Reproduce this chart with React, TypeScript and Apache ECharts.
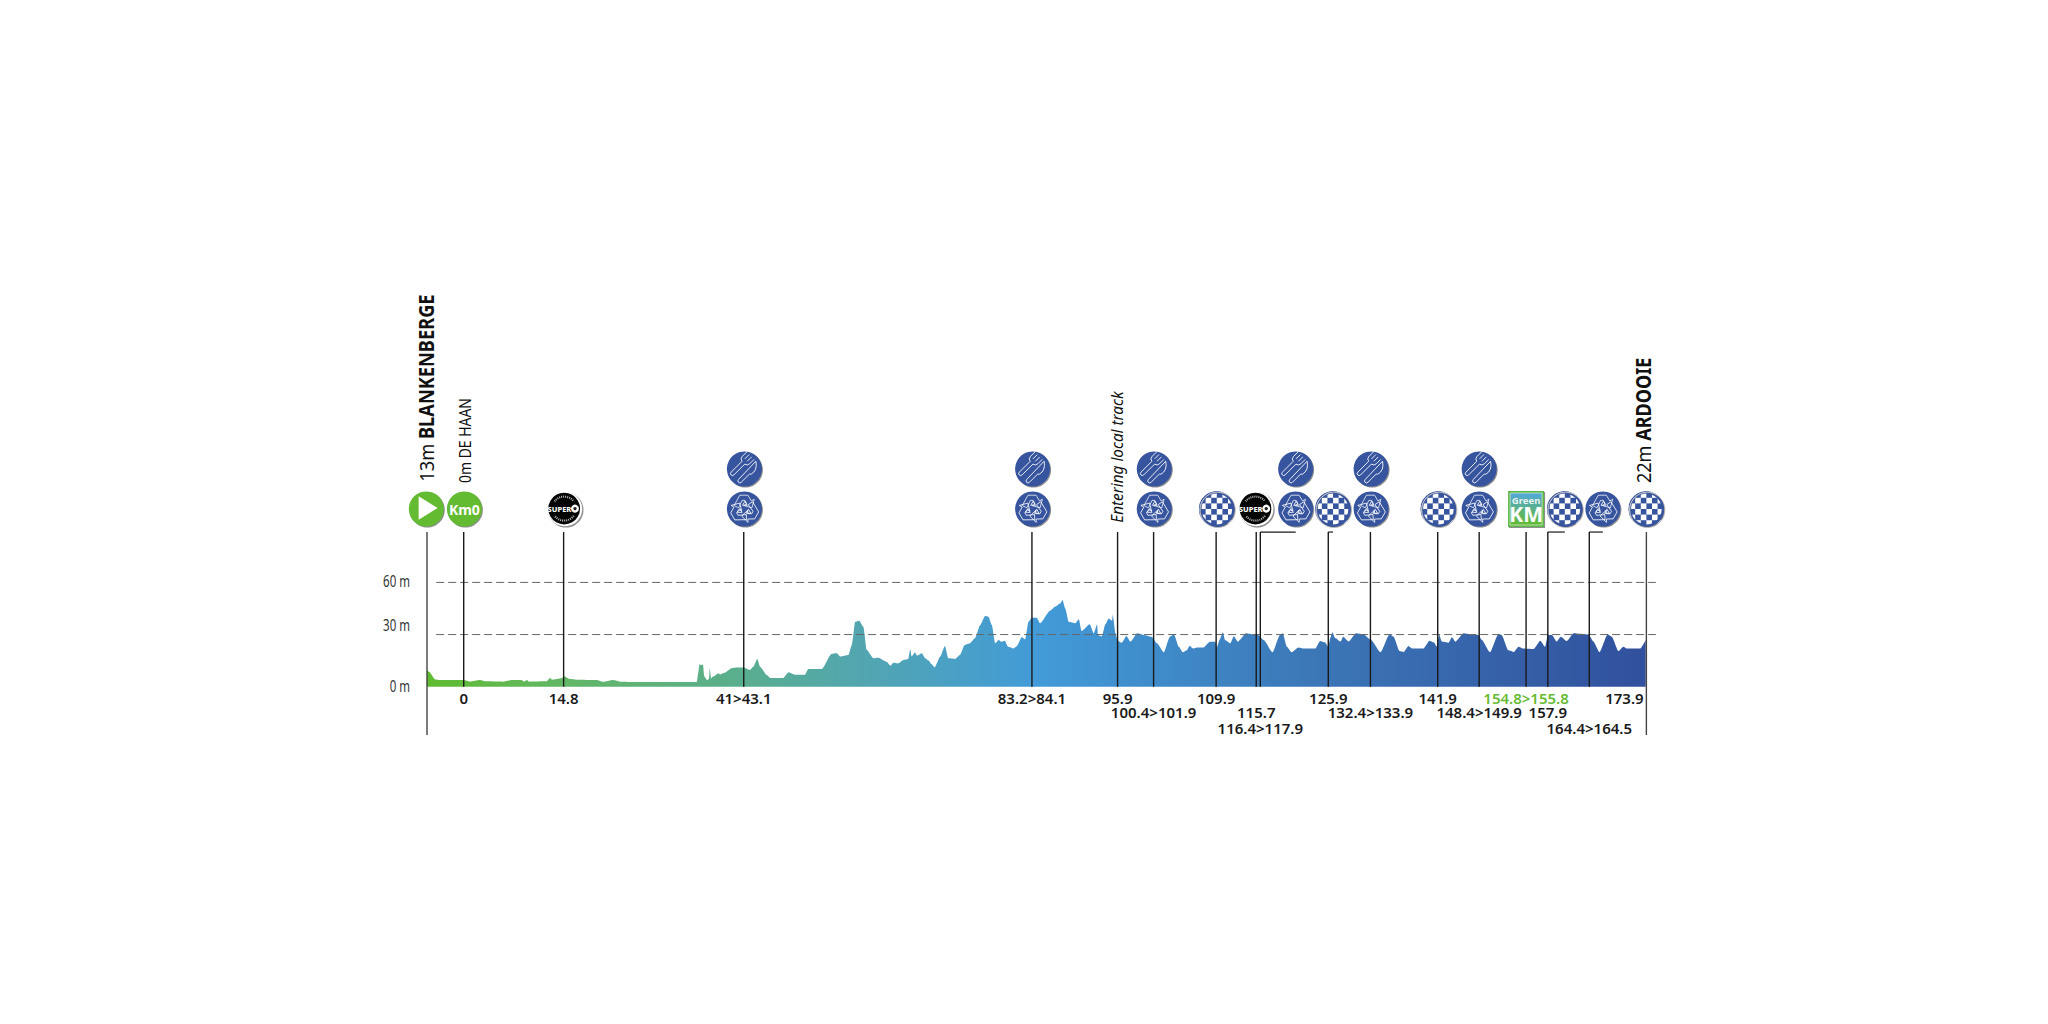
import React, { useEffect, useRef } from "react";
import * as echarts from "echarts";

// ---- data ----
const profileKm = [
  -5.4, -5.1, -4.2, -3.5, 0, 0.9, 2.4, 3.1, 5.8, 7.1, 8.5, 8.9, 9.3, 9.6, 12.2, 12.7, 13, 14.4, 14.8, 15.6, 16.6, 19.6,
  20.5, 22, 23, 25.4, 34.3, 34.5, 34.7, 34.9, 35.2, 35.4, 35.8, 36.1, 36.2, 36.4, 36.7, 37.5, 37.7, 38.4, 39.4, 40.2,
  41.2, 42.1, 42.6, 43.2, 43.6, 44.6, 45.1, 47, 47.8, 48.7, 50.2, 50.7, 52.7, 54.1, 54.9, 55.4, 56.6, 57.1, 57.6, 58.2,
  58.8, 59.3, 60.3, 61, 62.2, 62.8, 63.2, 63.9, 64.7, 65.4, 65.7, 65.9, 66.4, 66.7, 67.4, 67.9, 68.4, 68.8, 69.3, 70.1,
  70.8, 71.3, 72.3, 73, 73.7, 74.5, 75.2, 76, 76.7, 77.2, 77.7, 78.2, 78.7, 79.1, 79.6, 80.1, 80.9, 81.4, 82.1, 82.6,
  83.1, 83.6, 84.3, 84.8, 86.3, 87, 87.8, 88.1, 88.5, 89, 90, 90.5, 90.9, 92.1, 92.7, 93.2, 93.3, 93.9, 94.4, 94.9,
  95.4, 95.5, 95.9, 96.2, 96.8, 97.5, 98.1, 99.1, 100, 101.2, 102, 103, 103.9, 104.5, 105.2, 105.8, 106.4, 106.8, 107.3,
  107.9, 108.8, 109.8, 110.6, 110.8, 111.2, 111.7, 112, 112.8, 113.3, 113.9, 115.1, 116.2, 116.9, 117.7, 119, 120.1,
  120.5, 121.1, 121.8, 122.8, 123.6, 125.3, 126, 126.7, 127.2, 127.5, 127.8, 128.2, 129, 129.4, 130.2, 131.3, 132.4,
  133.5, 134.9, 136.2, 136.8, 137.7, 138.3, 139, 139.5, 141.2, 142.1, 142.7, 143.2, 143.5, 143.9, 144.9, 145.4, 145.9,
  147.1, 148.3, 149.3, 149.8, 151, 152.2, 152.7, 153.7, 154.5, 155.2, 155.8, 157.4, 158.4, 159.1, 159.5, 160.1, 160.8,
  161.4, 162.3, 163.3, 165.5, 166.2, 167.1, 168.3, 168.9, 169.9, 170.6, 171.1, 173.1, 173.9,
];
const profileElevation = [
  9.6, 8.6, 4.2, 3.8, 3.8, 2.9, 3.8, 3.1, 2.9, 3.8, 3.8, 2.9, 3.8, 2.9, 3.1, 5, 4, 4.8, 6, 4.4, 4, 3.8,
  2.7, 3.8, 2.9, 2.7, 2.7, 7.7, 13, 12.3, 12.7, 5.8, 3.8, 4.6, 10.4, 4.8, 5.8, 7.7, 7, 8, 10.6, 11,
  11, 9.6, 11.5, 16, 11.5, 6.7, 5, 5, 8.3, 6.9, 6.9, 10.2, 10.2, 18.8, 19.2, 17.3, 18.2, 24, 37.4, 38,
  34.5, 21.1, 16.3, 16.7, 14.4, 12.1, 13.8, 13.4, 15.4, 15.9, 21.5, 17.3, 19.6, 17.8, 19.2, 16.3, 15, 13, 11.1, 17.3,
  23.4, 16.3, 15.9, 18.2, 24, 25, 27.8, 35.5, 40.7, 40.3, 35.5, 25, 26.9, 25.9, 26.5, 23, 22, 23.4, 28.4, 27.2,
  37.4, 39.7, 39.7, 36.5, 43.8, 46, 48, 49.9, 45, 37.4, 36.5, 38.8, 32, 35.9, 30.7, 35.9, 29.8, 29, 35.9, 39.3,
  38, 41.3, 30.7, 26.5, 25.3, 29.2, 25.9, 30.7, 29.8, 28.8, 25, 19.8, 28.8, 30, 23, 19.8, 21, 23.6, 22,
  22.6, 22.5, 25.9, 25.9, 22.6, 26.9, 31.3, 26.9, 25, 29, 25.9, 30.7, 30, 29.8, 26.9, 19.8, 29.8,
  30.7, 23, 19.8, 22.6, 22, 22, 26.3, 25.5, 23, 28, 31.3, 28, 26, 28.8, 26, 30.7, 30,
  26.9, 19.8, 30, 28.8, 20.5, 20, 23.4, 22, 22, 26.5, 25.5, 23, 30, 26, 25.3, 28.4, 25.9,
  30.7, 30, 29.8, 26.9, 19.8, 30, 29.8, 21, 20, 23, 22, 21.7, 26.5, 23, 29.8, 29.8, 26,
  28.8, 26.3, 30.7, 30, 26, 19.8, 30, 28.8, 20.5, 23, 22, 22, 26.9,
];
const gridLevels = [30, 60];
const yTicks = [0, 30, 60];
const yTickLabels = ["0 m", "30 m", "60 m"];
const markerKm = [-5.4, 0, 14.7, 41.2, 83.6, 96.2, 101.5, 110.7, 116.6, 117.2, 127.2, 133.4, 143.3, 149.4, 156.3, 159.5, 165.6, 174];
const markerLabels = ["", "0", "14.8", "41>43.1", "83.2>84.1", "95.9", "100.4>101.9", "109.9", "115.7", "116.4>117.9", "125.9", "132.4>133.9", "141.9", "148.4>149.9", "154.8>155.8", "157.9", "164.4>164.5", "173.9"];
const iconKm = [-5.5, 0.1, 14.9, 41.3, 83.7, 101.6, 110.8, 116.6, 122.4, 127.9, 133.5, 143.4, 149.4, 156.3, 162, 167.6, 174];
const iconKinds = ["start", "km0", "super", "feed", "feed", "feed", "check", "super", "feed", "check", "feed", "check", "feed", "green", "check", "recycle", "check"];
const elbowFromKm = [117.2, 127.2, 159.5, 165.6];
const elbowToKm = [122.4, 127.9, 162, 167.6];

// ---- layout & style ----
const PX_PER_KM = 6.797;
const AXIS_MIN = -5.4;
const AXIS_MAX = 175.4;
const GRID_LEFT = 427;
const GRID_TOP = 530.3;
const GRID_H = 208.5;
const ICON_Y = 509;
const ICON_Y_UP = 469;
const R = 17.5;
const BLUE = "#37559f";
const GREEN = "#62bb30";
const SHADOW = "#8f8f8f";
const FONT = '"Noto Sans", sans-serif';
const labelRow = [0, 0, 0, 0, 0, 0, 1, 0, 1, 2, 0, 1, 0, 1, 0, 1, 2, 0];
const labelRowY = [697.5, 711.7, 728.3];
const yLabelShift = [-1, -9.6, -2];

const FORK = "M-8,-13V-7Q-8,-4-5.5,-3.5L-5.5,11Q-5.5,13-4,13Q-2.5,13-2.5,11L-2.5,-3.5Q0,-4,0,-7V-13M-5.3,-13V-7M-2.7,-13V-7";
const KNIFE = "M2,-13Q8,-8,6.5,-1L5.5,0L5.5,11Q5.5,13,4,13Q2.5,13,2.5,11Z";
const ARROW = "M-9,-3L-4,-12L3,-12L6,-7L8.5,-8.5L6.5,-1L-0.5,-3L2,-4.5L0.5,-7.5L-2,-7.5L-5,-1Z";
const INNER = "M-6,3L-2,3L-4,-0.5Z";

function disc(x: number, y: number, fill: string) {
  return [
    { type: "circle", shape: { cx: x + 1, cy: y + 1, r: R }, style: { fill: SHADOW } },
    { type: "circle", shape: { cx: x, cy: y, r: R }, style: { fill } },
  ];
}

function feedGlyph(x: number, y: number) {
  const s = { fill: "none", stroke: "#fff", lineWidth: 0.7 };
  return [
    { type: "path", x, y, rotation: -Math.PI / 4, scaleX: 1.3, scaleY: 1.05, shape: { pathData: FORK }, style: s },
    { type: "path", x, y, rotation: -Math.PI / 4, scaleX: 1.3, scaleY: 1.05, shape: { pathData: KNIFE }, style: s },
  ];
}

function recycleGlyph(x: number, y: number) {
  const s = { fill: "none", stroke: "#fff", lineWidth: 0.65 };
  return [0, 1, 2].flatMap((k) => [
    { type: "path", x, y, rotation: (k * 2 * Math.PI) / 3, scaleX: 1.15, scaleY: 1.15, shape: { pathData: ARROW }, style: s },
    { type: "path", x, y, rotation: (k * 2 * Math.PI) / 3, scaleX: 1.15, scaleY: 1.15, shape: { pathData: INNER }, style: s },
  ]);
}

function checkGlyph(x: number, y: number) {
  const out: any[] = [];
  const c = 5.6;
  for (let i = -3; i < 3; i++) {
    for (let j = -3; j < 3; j++) {
      if ((i + j + 6) % 2 !== 0) continue;
      out.push({ type: "rect", shape: { x: x + i * c, y: y + j * c, width: c, height: c }, style: { fill: "#fff" } });
    }
  }
  out.push({ type: "circle", shape: { cx: x, cy: y, r: 16.6 }, style: { fill: "none", stroke: BLUE, lineWidth: 2.6 } });
  out.push({ type: "circle", shape: { cx: x + 1, cy: y + 1, r: 17.8 }, style: { fill: "none", stroke: "#fff", lineWidth: 0.9 } });
  out.push({ type: "circle", shape: { cx: x + 1, cy: y + 1, r: 17.5 }, style: { fill: "none", stroke: SHADOW, lineWidth: 0.6 } });
  return out;
}

function iconElements(kind: string, x: number): any[] {
  if (kind === "feed") {
    return [...disc(x, ICON_Y_UP, BLUE), ...feedGlyph(x, ICON_Y_UP), ...disc(x, ICON_Y, BLUE), ...recycleGlyph(x, ICON_Y)];
  }
  if (kind === "recycle") return [...disc(x, ICON_Y, BLUE), ...recycleGlyph(x, ICON_Y)];
  if (kind === "check") return [...disc(x, ICON_Y, BLUE), ...checkGlyph(x, ICON_Y)];
  if (kind === "start") {
    return [
      ...disc(x, ICON_Y, GREEN),
      { type: "polygon", shape: { points: [[x - 7.7, ICON_Y - 12.7], [x - 7.7, ICON_Y + 10.7], [x + 11.3, ICON_Y - 1]] }, style: { fill: "#fff" } },
    ];
  }
  if (kind === "km0") {
    return [
      ...disc(x, ICON_Y, GREEN),
      { type: "text", x, y: ICON_Y, style: { text: "Km0", fill: "#fff", font: `700 14px ${FONT}`, align: "center", verticalAlign: "middle" } },
    ];
  }
  if (kind === "super") {
    return [
      { type: "circle", shape: { cx: x + 1, cy: ICON_Y + 1, r: R }, style: { fill: SHADOW } },
      { type: "circle", shape: { cx: x, cy: ICON_Y, r: R - 0.3 }, style: { fill: "#fff" } },
      { type: "circle", shape: { cx: x - 0.8, cy: ICON_Y - 0.4, r: R - 1.6 }, style: { fill: "#050505" } },
      { type: "arc", shape: { cx: x - 0.8, cy: ICON_Y - 0.4, r: 12, startAngle: -2.5, endAngle: -0.65 }, style: { stroke: "#bbb", fill: "none", lineWidth: 2, lineDash: [1, 1] } },
      { type: "arc", shape: { cx: x - 0.8, cy: ICON_Y - 0.4, r: 12, startAngle: 0.65, endAngle: 2.5 }, style: { stroke: "#bbb", fill: "none", lineWidth: 2, lineDash: [1, 1] } },
      { type: "text", x: x - 5.5, y: ICON_Y - 0.4, style: { text: "SUPER", fill: "#fff", font: `800 7.5px ${FONT}`, align: "center", verticalAlign: "middle" } },
      { type: "circle", shape: { cx: x + 10, cy: ICON_Y - 0.4, r: 4 }, style: { fill: "#fff" } },
      { type: "circle", shape: { cx: x + 10, cy: ICON_Y - 0.4, r: 1.7 }, style: { fill: "#222" } },
    ];
  }
  const grad = new echarts.graphic.LinearGradient(0, 0, 0, 1, [
    { offset: 0, color: "#52a8dc" },
    { offset: 1, color: "#62bb30" },
  ]);
  return [
    { type: "rect", shape: { x: x - 17, y: ICON_Y - 17, width: 36, height: 36 }, style: { fill: SHADOW } },
    { type: "rect", shape: { x: x - 18, y: ICON_Y - 18, width: 36, height: 36 }, style: { fill: "#5cb947" } },
    { type: "rect", shape: { x: x - 16, y: ICON_Y - 16, width: 32, height: 32 }, style: { fill: grad, stroke: "#cfe8c4", lineWidth: 0.8 } },
    { type: "text", x, y: ICON_Y - 9, style: { text: "Green", fill: "#e6f3ea", font: `700 9.5px ${FONT}`, align: "center", verticalAlign: "middle" } },
    { type: "text", x, y: ICON_Y + 4.5, style: { text: "KM", fill: "#fff", font: `700 21px ${FONT}`, align: "center", verticalAlign: "middle" } },
  ];
}

const TITLES = [
  { km: -5.4, dx: -1, bottom: 481.7, rich: "{a|13m }{b|BLANKENBERGE}", size: 20.5, sx: 0.89 },
  { km: 0, dx: 1.3, bottom: 483, rich: "{a|0m DE HAAN}", size: 15.5, sx: 0.9 },
  { km: 96.2, dx: -0.6, bottom: 522.7, rich: "{i|Entering local track}", size: 17, sx: 0.9 },
  { km: 174, dx: -3, bottom: 483, rich: "{a|22m }{b|ARDOOIE}", size: 20.5, sx: 0.88 },
];

export default function App() {
  const ref = useRef<HTMLDivElement>(null);
  useEffect(() => {
    const chart = echarts.init(ref.current!, null, { renderer: "svg" });
    const area = new echarts.graphic.LinearGradient(0, 0, 1, 0, [
      { offset: 0, color: "#5fbb30" },
      { offset: 0.11, color: "#62b765" },
      { offset: 0.26, color: "#59ae8f" },
      { offset: 0.35, color: "#53a6ae" },
      { offset: 0.5, color: "#429bd8" },
      { offset: 0.72, color: "#3c78b8" },
      { offset: 1, color: "#31509d" },
    ]);
    const rimColor = new echarts.graphic.LinearGradient(0, 0, 1, 0, [
      { offset: 0, color: "#7fcb5a" },
      { offset: 0.26, color: "#8cc7b0" },
      { offset: 0.5, color: "#80bce6" },
      { offset: 1, color: "#7d95cc" },
    ]);
    chart.setOption({
      animation: false,
      grid: { left: GRID_LEFT, top: GRID_TOP, width: (AXIS_MAX - AXIS_MIN) * PX_PER_KM, height: GRID_H },
      xAxis: { type: "value", min: AXIS_MIN, max: AXIS_MAX, show: false },
      yAxis: { type: "value", min: -30, max: 90, interval: 30, show: false },
      series: [
        {
          type: "line",
          name: "Elevation",
          data: profileKm.map((k, i) => [k, profileElevation[i]]),
          symbol: "none",
          smooth: 0.2,
          smoothMonotone: "x",
          lineStyle: { width: 0 },
          areaStyle: { color: area, opacity: 1 },
          z: 2,
          silent: true,
        },
        {
          type: "line",
          name: "Road",
          data: [[profileKm[0], 0.3], [profileKm[profileKm.length - 1], 0.3]],
          symbol: "none",
          lineStyle: { width: 1, color: rimColor },
          z: 3,
          silent: true,
        },
        ...gridLevels.map((lv) => ({
          type: "line",
          name: `${lv} m`,
          data: [[-4.05, lv], [175.4, lv]],
          symbol: "none",
          lineStyle: { width: 1, color: "#666", type: [8, 4] },
          z: 4,
          silent: true,
        })),
        {
          type: "custom",
          name: "Y labels",
          z: 5,
          silent: true,
          data: yTicks.map((v) => [AXIS_MIN, v]),
          renderItem: (params: any, api: any) => {
            const i = params.dataIndex;
            const p = api.coord([AXIS_MIN, yTicks[i]]);
            return {
              type: "text",
              x: p[0] - 17,
              y: p[1] + yLabelShift[i],
              scaleX: 0.72,
              style: { text: yTickLabels[i], fill: "#333", font: `400 16px ${FONT}`, align: "right", verticalAlign: "middle" },
            };
          },
        },
        {
          type: "custom",
          name: "Markers",
          z: 5,
          silent: true,
          data: markerKm.map((k) => [k]),
          renderItem: (params: any, api: any) => {
            const i = params.dataIndex;
            const x = api.coord([markerKm[i], 0])[0];
            const base = api.coord([0, 0])[1];
            const isEnd = i === 0 || i === markerKm.length - 1;
            const topY = api.coord([0, 89])[1];
            const bottomY = isEnd ? 735 : base;
            const label = markerLabels[i];
            const children: any[] = [
              { type: "line", shape: { x1: x, y1: topY, x2: x, y2: bottomY }, style: { stroke: isEnd ? "#444" : "#1a1a1a", lineWidth: 1.4 } },
            ];
            if (label) {
              children.push({
                type: "text",
                x: i === markerKm.length - 1 ? x - 22 : x,
                y: labelRowY[labelRow[i]],
                style: {
                  text: label,
                  fill: label === "154.8>155.8" ? "#66bb33" : "#1a1a1a",
                  font: `600 15px ${FONT}`,
                  align: "center",
                  verticalAlign: "middle",
                },
              });
            }
            return { type: "group", children };
          },
        },
        {
          type: "custom",
          name: "Elbows",
          z: 5,
          silent: true,
          data: elbowFromKm.map((k) => [k]),
          renderItem: (params: any, api: any) => {
            const i = params.dataIndex;
            const topY = api.coord([0, 89])[1];
            const x1 = api.coord([elbowFromKm[i], 0])[0];
            const x2 = api.coord([elbowToKm[i], 0])[0];
            return { type: "line", shape: { x1, y1: topY, x2, y2: topY }, style: { stroke: "#1a1a1a", lineWidth: 1.2 } };
          },
        },
        {
          type: "custom",
          name: "Icons",
          z: 6,
          silent: true,
          data: iconKm.map((k) => [k]),
          renderItem: (params: any, api: any) => {
            const i = params.dataIndex;
            const x = api.coord([iconKm[i], 0])[0];
            return { type: "group", children: iconElements(iconKinds[i], x) };
          },
        },
        {
          type: "custom",
          name: "Titles",
          z: 7,
          silent: true,
          data: TITLES.map((t) => [t.km]),
          renderItem: (params: any, api: any) => {
            const t = TITLES[params.dataIndex];
            const x = api.coord([t.km, 0])[0] + t.dx;
            return {
              type: "text",
              x,
              y: t.bottom,
              rotation: Math.PI / 2,
              scaleX: t.sx,
              style: {
                text: t.rich,
                align: "left",
                verticalAlign: "middle",
                rich: {
                  a: { fontFamily: "Noto Sans", fontSize: t.size, fill: "#111", color: "#111" },
                  b: { fontFamily: "Noto Sans", fontSize: t.size, fontWeight: 700, fill: "#111", color: "#111" },
                  i: { fontFamily: "Noto Sans", fontSize: t.size, fontStyle: "italic", fill: "#111", color: "#111" },
                },
              },
            };
          },
        },
      ],
    });
    return () => chart.dispose();
  }, []);
  return <div ref={ref} style={{ position: "absolute", left: 0, top: 0, width: 2048, height: 1024, background: "#fff" }} />;
}
